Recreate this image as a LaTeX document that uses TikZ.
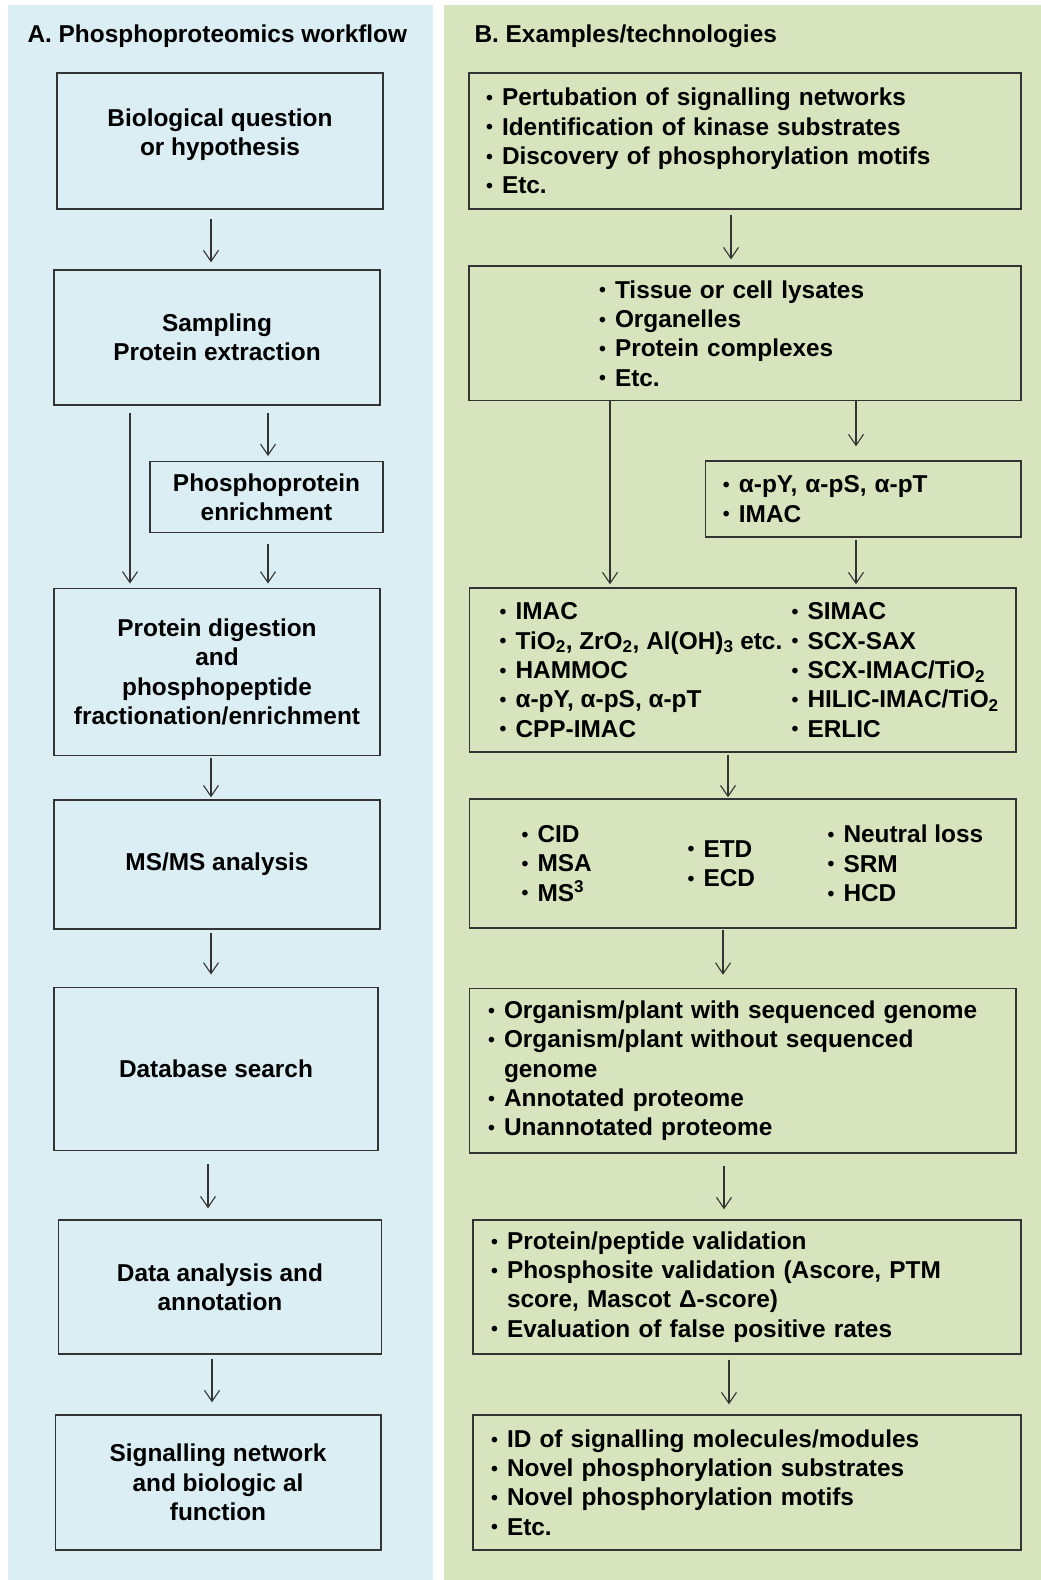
\documentclass[tikz,border=0pt]{standalone}
\usepackage{fontspec}
\setmainfont{Liberation Sans}
\usepackage{graphicx}
\usepackage{tikz}
\usetikzlibrary{arrows.meta}
\usepackage{xcolor}
\definecolor{panelA}{HTML}{DAEEF3}
\definecolor{panelB}{HTML}{D7E4BD}
\newcommand{\bul}{\makebox[16pt][l]{\raisebox{0.1ex}{\scalebox{0.8}{\textbullet}}}}
\newcommand{\ind}{\hspace*{16pt}}

\begin{document}
\begin{tikzpicture}[
    % one unit is one pixel of the figure, y pointing down
    x=1pt, y=-1pt,
    every node/.style={font=\fontsize{24.4}{29.3}\selectfont\bfseries},
    lbox/.style={draw=black!80, line width=1.4pt, align=center, inner sep=0pt},
    rbox/.style={draw=black!80, line width=1.4pt, align=left, inner ysep=0pt},
    cbox/.style={draw=black!80, line width=1.4pt, inner sep=0pt},
    arr/.style={-{Straight Barb[length=11pt,width=15pt]}, line width=1.1pt, draw=black!80}
]
    \useasboundingbox (0,0) rectangle (1041,1580);

    % Panels
    \fill[panelA] (8,5) rectangle (433,1580);
    \fill[panelB] (444,5) rectangle (1041,1580);
    \node[anchor=west] (titleA) at (24,36) {A. Phosphoproteomics workflow};
    \node[anchor=west] (titleB) at (471,36) {B. Examples/technologies};

    % Workflow steps
    \node[lbox, minimum width=326pt, minimum height=136pt, text depth=17pt] (L1) at (220,141) {Biological question\\or hypothesis};
    \node[lbox, minimum width=326pt, minimum height=135pt] (L2) at (217,337.5) {Sampling\\Protein extraction};
    \node[lbox, minimum width=233pt, minimum height=70.5pt] (L3) at (266.5,497) {Phosphoprotein\\enrichment};
    \node[lbox, minimum width=326pt, minimum height=167.5pt] (L4) at (217,672) {Protein digestion\\and\\phosphopeptide\\fractionation/enrichment};
    \node[lbox, minimum width=326pt, minimum height=129pt] (L5) at (217,864.5) {MS/MS analysis};
    \node[lbox, minimum width=324pt, minimum height=163.5pt] (L6) at (216,1069) {Database search};
    \node[lbox, minimum width=322.5pt, minimum height=134pt] (L7) at (220,1287) {Data analysis and\\annotation};
    \node[lbox, minimum width=325.6pt, minimum height=135pt] (L8) at (218,1482.5) {Signalling network\\and biologic al\\function};

    % Examples
    \node[rbox, text width=518pt, inner xsep=17pt, minimum height=136pt] (R1) at (745,141)
        {\bul Pertubation of signalling networks\\\bul Identification of kinase substrates\\\bul Discovery of phosphorylation motifs\\\bul Etc.};
    \node[rbox, text width=292pt, inner xsep=130pt, minimum height=134.7pt] (R2) at (745,333.4)
        {\bul Tissue or cell lysates\\\bul Organelles\\\bul Protein complexes\\\bul Etc.};
    \node[rbox, text width=280.5pt, inner xsep=17.5pt, minimum height=76pt] (R3) at (863.2,499)
        {\bul α-pY, α-pS, α-pT\\\bul IMAC};
    \node[cbox, minimum width=546.4pt, minimum height=164pt] (R4) at (742.8,670)
        {\hspace*{29.5pt}\parbox[c]{292pt}{\raggedright
            \bul IMAC\\\bul TiO\textsubscript{2}, ZrO\textsubscript{2}, Al(OH)\textsubscript{3} etc.\\\bul HAMMOC\\\bul α-pY, α-pS, α-pT\\\bul CPP-IMAC}%
         \parbox[c]{224pt}{\raggedright
            \bul SIMAC\\\bul SCX-SAX\\\bul SCX-IMAC/TiO\textsubscript{2}\\\bul HILIC-IMAC/TiO\textsubscript{2}\\\bul ERLIC}};
    \node[cbox, minimum width=546.4pt, minimum height=129pt] (R5) at (742.8,863.5)
        {\hspace*{51.4pt}\parbox[c]{166pt}{\raggedright
            \bul CID\\\bul MSA\\\bul MS\textsuperscript{3}}%
         \parbox[c]{140pt}{\raggedright\bul ETD\\\bul ECD}%
         \parbox[c]{188pt}{\raggedright\bul Neutral loss\\\bul SRM\\\bul HCD}};
    \node[rbox, text width=509.6pt, inner xsep=18.4pt, minimum height=164.5pt] (R6) at (742.8,1070.7)
        {\bul Organism/plant with sequenced genome\\\bul Organism/plant without sequenced\\\ind genome\\\bul Annotated proteome\\\bul Unannotated proteome};
    \node[rbox, text width=512pt, inner xsep=18pt, minimum height=134pt] (R7) at (747,1287)
        {\bul Protein/peptide validation\\\bul Phosphosite validation (Ascore, PTM\\\ind score, Mascot Δ-score)\\\bul Evaluation of false positive rates};
    \node[rbox, text width=512pt, inner xsep=18pt, minimum height=135pt] (R8) at (747,1482.5)
        {\bul ID of signalling molecules/modules\\\bul Novel phosphorylation substrates\\\bul Novel phosphorylation motifs\\\bul Etc.};

    % Arrows: from/to/x/gap at start/gap at end
    \foreach \a/\b/\x/\s/\e in {L1/L2/211/9/7, L2/L3/268/7/5, L2/L4/130/7/4, L3/L4/268/11/4,
                                L4/L5/211/2/2, L5/L6/211/3/12, L6/L7/208/13/11, L7/L8/212/4/12,
                                R1/R2/731/5/6, R2/R3/856/0/14, R2/R4/610/0/3, R3/R4/856/2/3,
                                R4/R5/728/2/1, R5/R6/723/1/13, R6/R7/724/12/10, R7/R8/729/5/10} {
        \draw[arr, shorten <=\s pt, shorten >=\e pt] (\a.south -| \x,0) -- (\b.north -| \x,0);
    }
\end{tikzpicture}
\end{document}
